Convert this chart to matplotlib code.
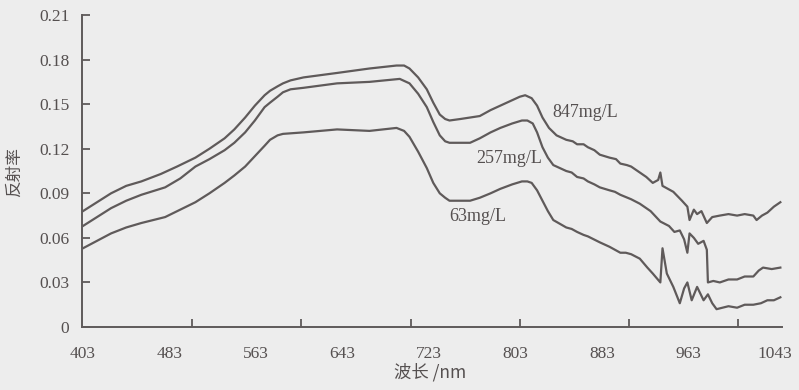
import matplotlib.pyplot as plt

# wavelength (nm) / reflectance
wl_847 = [403, 416, 429, 443, 457, 475, 490, 507, 520, 534, 543, 553, 562, 571, 576, 583,
          588, 595, 607, 638, 668, 693, 700, 705, 713, 721, 727, 733, 738, 742, 752, 761,
          770, 780, 789, 798, 807, 812, 818, 823, 828, 834, 841, 850, 856, 860, 866, 870,
          876, 881, 890, 896, 900, 906, 910, 918, 924, 930, 935, 937, 939, 944, 949, 953,
          957, 962, 964, 968, 971, 975, 980, 985, 992, 1000, 1008, 1015, 1023, 1026, 1031,
          1036, 1042, 1048]
r_847 = [0.078, 0.084, 0.090, 0.095, 0.098, 0.103, 0.108, 0.114, 0.120, 0.127, 0.133, 0.141,
         0.149, 0.156, 0.159, 0.162, 0.164, 0.166, 0.168, 0.171, 0.174, 0.176, 0.176, 0.174,
         0.168, 0.160, 0.151, 0.143, 0.140, 0.139, 0.140, 0.141, 0.142, 0.146, 0.149, 0.152,
         0.155, 0.156, 0.154, 0.149, 0.141, 0.134, 0.129, 0.126, 0.125, 0.123, 0.123, 0.121,
         0.119, 0.116, 0.114, 0.113, 0.110, 0.109, 0.108, 0.104, 0.101, 0.097, 0.099, 0.104,
         0.095, 0.093, 0.091, 0.088, 0.085, 0.081, 0.072, 0.079, 0.076, 0.078, 0.070, 0.074,
         0.075, 0.076, 0.075, 0.076, 0.075, 0.072, 0.075, 0.077, 0.081, 0.084]

wl_257 = [403, 416, 429, 443, 457, 479, 493, 507, 520, 534, 543, 553, 562, 571, 576, 583,
          588, 595, 607, 638, 668, 696, 705, 713, 721, 727, 733, 738, 742, 752, 761, 770,
          780, 789, 800, 809, 814, 819, 823, 828, 833, 838, 850, 855, 860, 866, 870, 876,
          881, 890, 895, 900, 910, 918, 928, 937, 945, 950, 955, 959, 962, 964, 968, 972,
          977, 980, 981, 986, 992, 1000, 1008, 1015, 1023, 1028, 1032, 1040, 1048]
r_257 = [0.068, 0.074, 0.080, 0.085, 0.089, 0.094, 0.100, 0.108, 0.113, 0.119, 0.124, 0.131,
         0.139, 0.148, 0.151, 0.155, 0.158, 0.160, 0.161, 0.164, 0.165, 0.167, 0.164, 0.157,
         0.148, 0.138, 0.129, 0.125, 0.124, 0.124, 0.124, 0.127, 0.131, 0.134, 0.137, 0.139,
         0.139, 0.137, 0.131, 0.121, 0.114, 0.109, 0.105, 0.104, 0.101, 0.100, 0.098, 0.096,
         0.094, 0.092, 0.091, 0.089, 0.086, 0.083, 0.078, 0.071, 0.068, 0.064, 0.065, 0.059,
         0.050, 0.063, 0.060, 0.056, 0.058, 0.052, 0.030, 0.031, 0.030, 0.032, 0.032, 0.034,
         0.034, 0.038, 0.040, 0.039, 0.040]

wl_63 = [403, 416, 429, 443, 457, 479, 493, 507, 520, 534, 543, 553, 562, 571, 576, 583,
         588, 607, 638, 668, 693, 700, 705, 713, 721, 727, 733, 738, 742, 761, 770, 780,
         789, 800, 809, 814, 818, 823, 828, 833, 838, 850, 855, 860, 866, 870, 881, 890,
         900, 905, 910, 918, 925, 930, 937, 939, 943, 949, 955, 959, 962, 966, 971, 977,
         981, 985, 989, 1000, 1008, 1015, 1023, 1030, 1036, 1042, 1048]
r_63 = [0.053, 0.058, 0.063, 0.067, 0.070, 0.074, 0.079, 0.084, 0.090, 0.097, 0.102, 0.108,
        0.115, 0.122, 0.126, 0.129, 0.130, 0.131, 0.133, 0.132, 0.134, 0.132, 0.128, 0.118,
        0.107, 0.097, 0.090, 0.087, 0.085, 0.085, 0.087, 0.090, 0.093, 0.096, 0.098, 0.098,
        0.097, 0.092, 0.085, 0.078, 0.072, 0.067, 0.066, 0.064, 0.062, 0.061, 0.057, 0.054,
        0.050, 0.050, 0.049, 0.046, 0.040, 0.036, 0.030, 0.053, 0.036, 0.027, 0.016, 0.026,
        0.030, 0.018, 0.027, 0.018, 0.022, 0.016, 0.012, 0.014, 0.013, 0.015, 0.015, 0.016,
        0.018, 0.018, 0.020]

x_ticks = [403, 483, 563, 643, 723, 803, 883, 963, 1043]
y_ticks = [0, 0.03, 0.06, 0.09, 0.12, 0.15, 0.18, 0.21]
y_labels = ["0", "0.03", "0.06", "0.09", "0.12", "0.15", "0.18", "0.21"]
tick_marks = [504, 605, 706, 807, 908, 1009]

bg = "#ededed"
line_c = "#5f5a5a"
text_c = "#555050"

fig = plt.figure(figsize=(7.99, 3.90), dpi=100, facecolor=bg)
ax = fig.add_axes([0.1026, 0.1615, 0.8761, 0.8])
ax.set_facecolor(bg)

for wl, r in [(wl_847, r_847), (wl_257, r_257), (wl_63, r_63)]:
    ax.plot(wl, r, color=line_c, lw=1.6, solid_joinstyle="round")

ax.set_xlim(402.1, 1049.5)
ax.set_ylim(0, 0.21)

for s in ["top", "right"]:
    ax.spines[s].set_visible(False)
for s in ["left", "bottom"]:
    ax.spines[s].set_color(line_c)
    ax.spines[s].set_linewidth(1.4)

ax.set_xticks(x_ticks)
ax.set_xticklabels([str(v) for v in x_ticks], family="Liberation Serif",
                   fontsize=12.5, color=text_c)
ax.set_xticks(tick_marks, minor=True)
ax.tick_params(axis="x", which="major", length=0, pad=14)
ax.tick_params(axis="x", which="minor", direction="in", length=6, width=1.3, color=line_c)

ax.set_yticks(y_ticks)
ax.set_yticklabels(y_labels, family="Liberation Serif", fontsize=12.5, color=text_c)
ax.tick_params(axis="y", direction="in", length=6, width=1.3, color=line_c, pad=9)

lab = dict(family="Liberation Serif", fontsize=13, color=text_c, va="center", ha="left")
ax.text(837, 0.1447, "847mg/L", **lab)
ax.text(767, 0.1137, "257mg/L", **lab)
ax.text(742, 0.0747, "63mg/L", **lab)

fig.text(0.0175, 0.559, "反射率", rotation=90, ha="center", va="center",
         family=["Noto Sans CJK SC", "DejaVu Sans"], fontsize=12, color=text_c)
fig.text(0.538, 0.045, "波长 /nm", ha="center", va="center",
         family=["Noto Sans CJK SC", "Liberation Serif"], fontsize=12.5, color=text_c)

fig.savefig("out.png", dpi=100, facecolor=bg)
